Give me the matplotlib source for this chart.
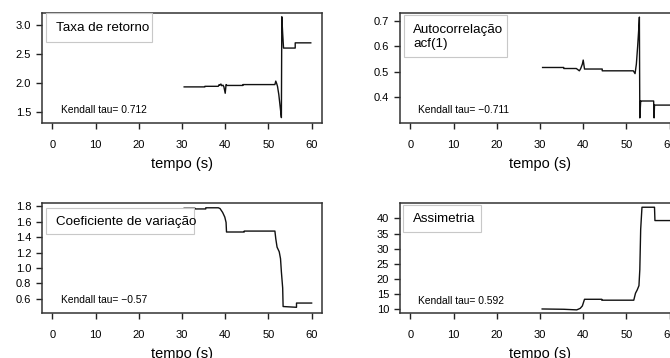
import matplotlib
matplotlib.use("Agg")
import matplotlib.pyplot as plt
from matplotlib.patches import Rectangle

plt.rcParams['font.family'] = ['Liberation Sans', 'DejaVu Sans']

# ---- data ----
t_ret = [30.5, 35.3, 35.3, 38.4, 38.6, 38.8, 39.0, 39.2, 39.5, 39.7, 40.0, 40.2, 40.4, 44.1, 44.1,
         51.5, 51.7, 51.9, 52.1, 52.4, 52.7, 53.0, 53.1, 53.3, 53.5, 56.2, 56.2, 59.8]
v_ret = [1.93, 1.93, 1.94, 1.94, 1.97, 1.96, 1.98, 1.95, 1.96, 1.93, 1.82, 1.97, 1.955, 1.955, 1.97,
         1.97, 2.03, 1.99, 1.94, 1.80, 1.60, 1.40, 3.14, 2.85, 2.60, 2.60, 2.69, 2.69]

t_acf = [30.6, 35.5, 35.5, 38.4, 38.8, 39.1, 39.4, 39.8, 40.0, 40.3, 44.4, 44.4,
         51.6, 52.0, 52.3, 52.6, 52.9, 53.0, 53.1, 53.3, 53.5, 56.3, 56.4, 56.5, 60.0]
v_acf = [0.517, 0.517, 0.513, 0.513, 0.508, 0.504, 0.512, 0.530, 0.546, 0.511, 0.511, 0.504,
         0.504, 0.493, 0.530, 0.600, 0.680, 0.714, 0.320, 0.386, 0.386, 0.386, 0.320, 0.370, 0.370]

t_cv = [30.5, 33.0, 33.0, 35.5, 35.5, 38.4, 38.8, 39.4, 39.9, 40.2, 40.3, 44.4, 44.4,
        51.5, 51.7, 52.0, 52.5, 52.8, 53.0, 53.3, 53.4, 56.5, 56.5, 60.0]
v_cv = [1.774, 1.774, 1.765, 1.765, 1.780, 1.780, 1.770, 1.720, 1.660, 1.590, 1.466, 1.466, 1.478,
        1.478, 1.380, 1.270, 1.210, 1.120, 0.950, 0.740, 0.500, 0.490, 0.545, 0.545]

t_sk = [30.5, 35.5, 38.5, 39.3, 39.8, 40.3, 44.3, 44.3, 51.7, 52.1, 52.5, 52.9, 53.1, 53.3, 53.6,
        56.5, 56.6, 60.0]
v_sk = [10.1, 10.0, 9.8, 10.3, 11.1, 13.3, 13.3, 13.0, 13.0, 15.3, 16.4, 17.8, 23.1, 36.4, 43.7,
        43.7, 39.3, 39.3]

titles = ["Taxa de retorno", "Autocorrelação\nacf(1)", "Coeficiente de variação", "Assimetria"]
kendall = ["Kendall tau= 0.712", "Kendall tau= \u22120.711", "Kendall tau= \u22120.57", "Kendall tau= 0.592"]
xticks = [0, 10, 20, 30, 40, 50, 60]
yticks = [[1.5, 2.0, 2.5, 3.0], [0.4, 0.5, 0.6, 0.7],
          [0.6, 0.8, 1.0, 1.2, 1.4, 1.6, 1.8], [10, 15, 20, 25, 30, 35, 40]]
ylims = [(1.307, 3.205), (0.300, 0.730), (0.416, 1.842), (8.77, 45.1)]
series = [(t_ret, v_ret), (t_acf, v_acf), (t_cv, v_cv), (t_sk, v_sk)]

W, H = 670, 358
fig = plt.figure(figsize=(W / 100, H / 100), dpi=100)

# axes boxes in pixels: (left, top, width, height)
boxes = [(42, 13, 280, 110), (400, 13, 280, 110), (42, 203, 280, 110), (400, 203, 280, 110)]
legend_boxes = [(0.014, 0.736, 0.379, 0.264), (0.014, 0.60, 0.368, 0.382),
                (0.014, 0.718, 0.529, 0.237), (0.011, 0.736, 0.278, 0.246)]
title_pos = [(0.05, 0.861), (0.0475, 0.78), (0.05, 0.824), (0.048, 0.855)]
kendall_pos = [(0.067, 0.118), (0.065, 0.118), (0.067, 0.121), (0.065, 0.106)]

for i in range(4):
    l, t, w, h = boxes[i]
    ax = fig.add_axes([l / W, 1 - (t + h) / H, w / W, h / H])
    x, y = series[i]
    ax.plot(x, y, color='#111111', lw=1.0)
    ax.set_xlim(-2.4, 62.4)
    ax.set_ylim(*ylims[i])
    ax.set_xticks(xticks)
    ax.set_yticks(yticks[i])
    ax.set_yticklabels([f"{v:.1f}" if isinstance(v, float) else str(v) for v in yticks[i]])
    ax.tick_params(axis='x', direction='out', length=4.3, width=1.0, pad=8, labelsize=8, color='#222222')
    ax.tick_params(axis='y', direction='out', length=4.5, width=1.0, pad=3.2, labelsize=8, color='#222222')
    for s in ax.spines.values():
        s.set_linewidth(1.1)
        s.set_color('#333333')
    ax.set_xlabel("tempo (s)", fontsize=10.5, labelpad=5)
    bx, by, bw, bh = legend_boxes[i]
    ax.add_patch(Rectangle((bx, by), bw, bh, transform=ax.transAxes, facecolor='white',
                           edgecolor='#c8c8c8', lw=0.8, clip_on=False, zorder=3))
    ax.text(title_pos[i][0], title_pos[i][1], titles[i], transform=ax.transAxes,
            fontsize=9.6, va='center', ha='left', zorder=4, linespacing=1.25)
    ax.text(kendall_pos[i][0], kendall_pos[i][1], kendall[i], transform=ax.transAxes,
            fontsize=7.4, va='center', ha='left')

fig.savefig("out.png", dpi=100)
